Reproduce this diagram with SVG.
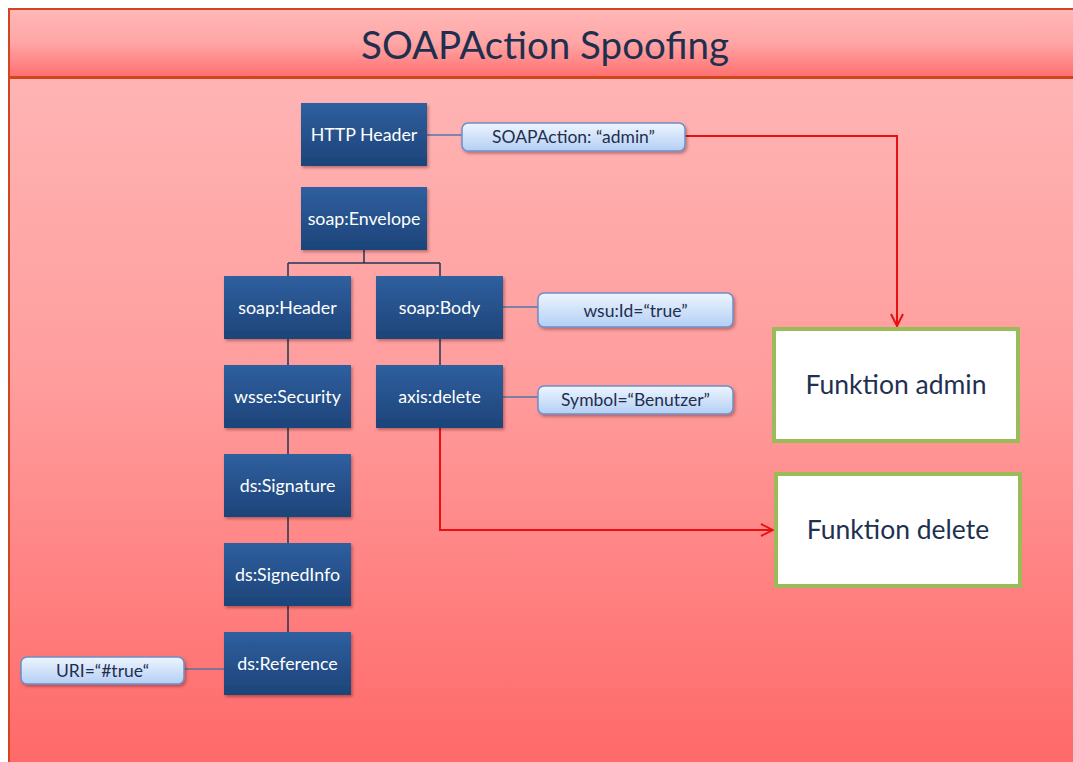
<svg xmlns="http://www.w3.org/2000/svg" width="1073" height="762" viewBox="0 0 1073 762">
  <defs>
    <linearGradient id="bodyBg" x1="0" y1="0" x2="0" y2="1">
      <stop offset="0" stop-color="#ffb4b4"/>
      <stop offset="0.45" stop-color="#ff9c9c"/>
      <stop offset="1" stop-color="#ff6868"/>
    </linearGradient>
    <linearGradient id="titleBg" x1="0" y1="0" x2="0" y2="1">
      <stop offset="0" stop-color="#ffb8b8"/>
      <stop offset="0.5" stop-color="#ffa5a5"/>
      <stop offset="1" stop-color="#ff6f6f"/>
    </linearGradient>
    <linearGradient id="nodeFill" x1="0" y1="0" x2="0" y2="1">
      <stop offset="0" stop-color="#2f5f9f"/>
      <stop offset="1" stop-color="#1d4479"/>
    </linearGradient>
    <linearGradient id="tagFill" x1="0" y1="0" x2="0" y2="1">
      <stop offset="0" stop-color="#eef5ff"/>
      <stop offset="1" stop-color="#b3cff4"/>
    </linearGradient>
    <filter id="shadow" x="-10%" y="-10%" width="125%" height="130%">
      <feDropShadow dx="1.5" dy="2" stdDeviation="1.5" flood-color="#400000" flood-opacity="0.35"/>
    </filter>
    <marker id="openArrow" viewBox="0 0 14 14" refX="13" refY="7" markerWidth="14" markerHeight="14" markerUnits="userSpaceOnUse" orient="auto">
      <path d="M1,1 L13,7 L1,13" fill="none" stroke="#e81010" stroke-width="2"/>
    </marker>
    <style>
      .node rect { fill: url(#nodeFill); filter: url(#shadow); }
      .node text { fill: #ffffff; font-family: Lato, "Open Sans", sans-serif; font-size: 17.8px; text-anchor: middle; }
      .tag rect { fill: url(#tagFill); stroke: #6d8ec6; stroke-width: 1.5; filter: url(#shadow); }
      .tag text { fill: #1f2f4f; font-family: Lato, "Open Sans", sans-serif; font-size: 17.5px; text-anchor: middle; }
      .func rect { fill: #ffffff; stroke: #9bbb59; stroke-width: 4; }
      .func text { fill: #1f3050; font-family: Lato, "Open Sans", sans-serif; font-size: 26.5px; text-anchor: middle; }
      .tree { fill: none; stroke: #22354f; stroke-width: 1.5; }
      .link { fill: none; stroke: #5674a8; stroke-width: 1.5; }
      .flow { fill: none; stroke: #e81010; stroke-width: 2; marker-end: url(#openArrow); }
    </style>
  </defs>

  <!-- slide background -->
  <rect x="0" y="0" width="1073" height="762" fill="#ffffff"/>
  <rect x="9" y="78" width="1070" height="690" fill="url(#bodyBg)" stroke="#d2461e" stroke-width="2"/>
  <rect x="9" y="9" width="1070" height="68" fill="url(#titleBg)" stroke="#d2461e" stroke-width="2"/>
  <text x="545" y="59" fill="#1f2f4f" font-family="Lato, 'Open Sans', sans-serif" font-size="38.5" text-anchor="middle">SOAPAction Spoofing</text>

  <!-- connectors -->
  <g id="connectors">
    <path class="tree" d="M364,250 V263 M288,263 H440 M288,263 V276 M440,263 V276"/>
    <path class="tree" d="M288,339 V365 M288,428 V454 M288,517 V543 M288,606 V632"/>
    <path class="tree" d="M440,339 V365"/>
    <path class="link" d="M427,135 H462"/>
    <path class="link" d="M503,307 H538"/>
    <path class="link" d="M503,397 H538"/>
    <path class="link" d="M184,669 H224"/>
    <path class="flow" d="M685,136 H897 V326"/>
    <path class="flow" d="M440,428 V530 H773"/>
  </g>

  <!-- message structure -->
  <g id="http-header" class="node"><rect x="301" y="103" width="126" height="63"/><text x="364" y="141">HTTP Header</text></g>
  <g id="soap-envelope" class="node"><rect x="301" y="187" width="126" height="63"/><text x="364" y="225">soap:Envelope</text></g>
  <g id="soap-header" class="node"><rect x="224" y="276" width="127" height="63"/><text x="287.5" y="314">soap:Header</text></g>
  <g id="soap-body" class="node"><rect x="376" y="276" width="127" height="63"/><text x="439.5" y="314">soap:Body</text></g>
  <g id="wsse-security" class="node"><rect x="224" y="365" width="127" height="63"/><text x="287.5" y="403">wsse:Security</text></g>
  <g id="axis-delete" class="node"><rect x="376" y="365" width="127" height="63"/><text x="439.5" y="403">axis:delete</text></g>
  <g id="ds-signature" class="node"><rect x="224" y="454" width="127" height="63"/><text x="287.5" y="492">ds:Signature</text></g>
  <g id="ds-signedinfo" class="node"><rect x="224" y="543" width="127" height="63"/><text x="287.5" y="581">ds:SignedInfo</text></g>
  <g id="ds-reference" class="node"><rect x="224" y="632" width="127" height="63"/><text x="287.5" y="670">ds:Reference</text></g>

  <!-- attribute tags -->
  <g id="tag-soapaction" class="tag"><rect x="462" y="123" width="223" height="28" rx="6"/><text x="573.5" y="143">SOAPAction: “admin”</text></g>
  <g id="tag-wsu-id" class="tag"><rect x="538" y="293" width="195" height="34" rx="6"/><text x="635.5" y="316.5">wsu:Id=“true”</text></g>
  <g id="tag-symbol" class="tag"><rect x="538" y="386" width="195" height="28" rx="6"/><text x="635.5" y="406">Symbol=“Benutzer”</text></g>
  <g id="tag-uri" class="tag"><rect x="21" y="657" width="163" height="27" rx="6"/><text x="102.5" y="676.5">URI=“#true“</text></g>

  <!-- target operations -->
  <g id="funktion-admin" class="func"><rect x="774" y="329" width="244" height="112"/><text x="896" y="394">Funktion admin</text></g>
  <g id="funktion-delete" class="func"><rect x="776" y="474" width="244" height="112"/><text x="898" y="539">Funktion delete</text></g>
</svg>
